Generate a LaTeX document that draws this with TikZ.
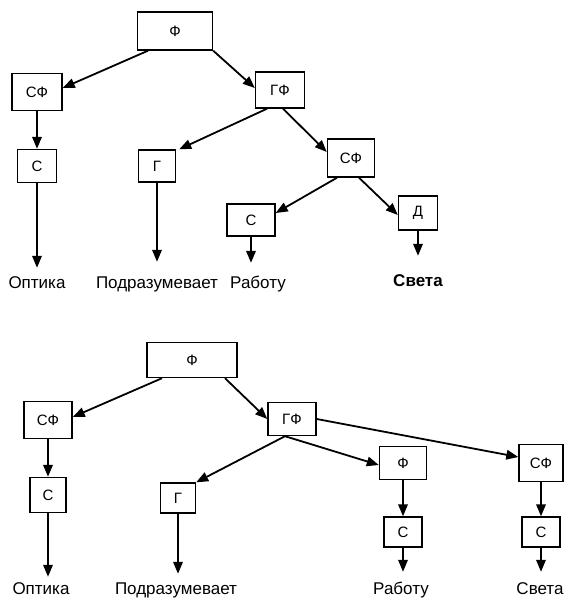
\documentclass[tikz,border=0pt]{standalone}
\usepackage{fontspec}
\setmainfont{Liberation Sans}
\usetikzlibrary{arrows.meta}
\begin{document}
\begin{tikzpicture}[x=1pt,y=-1pt,
  blk/.style={draw, line width=1.4pt, inner sep=0pt, font=\fontsize{15}{15}\selectfont},
  word/.style={inner sep=0pt, anchor=base, text height=12pt, text depth=0pt,
               font=\fontsize{17}{17}\selectfont},
  arr/.style={line width=1.8pt, -{Triangle[length=12pt,width=9.5pt]}}]
\useasboundingbox (0,0) rectangle (564,600);

% ---------- upper tree ----------
\node[blk, minimum width=75pt, minimum height=38pt] (F1)  at (175,31)  {Ф};
\node[blk, minimum width=50pt, minimum height=37pt] (SF1) at (37,92)   {СФ};
\node[blk, minimum width=49pt, minimum height=36pt] (GF1) at (280,90)  {ГФ};
\node[blk, minimum width=39pt, minimum height=33pt] (C1)  at (37,166)  {С};
\node[blk, minimum width=37pt, minimum height=32pt] (G1)  at (157,166) {Г};
\node[blk, minimum width=47pt, minimum height=38pt] (SF2) at (351,158) {СФ};
\node[blk, minimum width=48pt, minimum height=32pt] (C2)  at (251,220) {С};
\node[blk, minimum width=39pt, minimum height=34pt] (D1)  at (418,213) {Д};

\node[word] (L1) at (37,288)  {Оптика};
\node[word] (L2) at (157,288) {Подразумевает};
\node[word] (L3) at (258,288) {Работу};
\node[word, font=\fontsize{17}{17}\selectfont\bfseries] (L4) at (418,286) {Света};

\draw[arr] ([xshift=-27pt]F1.south) -- ([yshift=4pt]SF1.east);
\draw[arr] (F1.south east) -- ([yshift=2pt]GF1.west);
\draw[arr] (SF1.south) -- (C1.north);
\draw[arr] ([xshift=-13pt]GF1.south) -- ([xshift=3pt]G1.north east);
\draw[arr] ([xshift=3pt]GF1.south) -- ([yshift=6pt]SF2.west);
\draw[arr] ([xshift=-14pt]SF2.south) -- ([yshift=7pt]C2.east);
\draw[arr] ([xshift=8pt]SF2.south) -- ([yshift=-2pt]D1.west);
\draw[arr, shorten >=8pt]  (C1.south) -- (C1.south |- L1.north);
\draw[arr, shorten >=14pt] (G1.south) -- (G1.south |- L2.north);
\draw[arr, shorten >=13pt] (C2.south) -- (C2.south |- L3.north);
\draw[arr, shorten >=18pt] (D1.south) -- (D1.south |- L4.north);

% ---------- lower tree ----------
\node[blk, minimum width=90pt, minimum height=35pt] (F3)  at (192,360) {Ф};
\node[blk, minimum width=48pt, minimum height=37pt] (SF3) at (48,420)  {СФ};
\node[blk, minimum width=36pt, minimum height=35pt] (C3)  at (48,495)  {С};
\node[blk, minimum width=35pt, minimum height=30pt] (G3)  at (178,498) {Г};
\node[blk, minimum width=48pt, minimum height=33pt] (GF3) at (292,419) {ГФ};
\node[blk, minimum width=47pt, minimum height=33pt] (F4)  at (403,463) {Ф};
\node[blk, minimum width=38pt, minimum height=30pt] (C4)  at (403,532) {С};
\node[blk, minimum width=44pt, minimum height=37pt] (SF4) at (541,463) {СФ};
\node[blk, minimum width=38pt, minimum height=30pt] (C5)  at (541,532) {С};

\node[word] (L5) at (41,594)  {Оптика};
\node[word] (L6) at (176,594) {Подразумевает};
\node[word] (L7) at (401,594) {Работу};
\node[word] (L8) at (540,594) {Света};

\draw[arr] ([xshift=-30pt]F3.south) -- ([yshift=3pt]SF3.east);
\draw[arr] ([xshift=33pt]F3.south) -- (GF3.west);
\draw[arr] (SF3.south) -- (C3.north);
\draw[arr] ([xshift=-7pt]GF3.south) -- (G3.north east);
\draw[arr] ([xshift=-7pt]GF3.south) -- ([yshift=-2pt]F4.west);
\draw[arr] (GF3.east) -- ([yshift=6pt]SF4.west);
\draw[arr] (F4.south) -- (C4.north);
\draw[arr] (SF4.south) -- (C5.north);
\draw[arr, shorten >=5pt]  (C3.south) -- (C3.south |- L5.north);
\draw[arr, shorten >=8pt]  (G3.south) -- (G3.south |- L6.north);
\draw[arr, shorten >=10pt] (C4.south) -- (C4.south |- L7.north);
\draw[arr, shorten >=10pt] (C5.south) -- (C5.south |- L8.north);
\end{tikzpicture}
\end{document}
